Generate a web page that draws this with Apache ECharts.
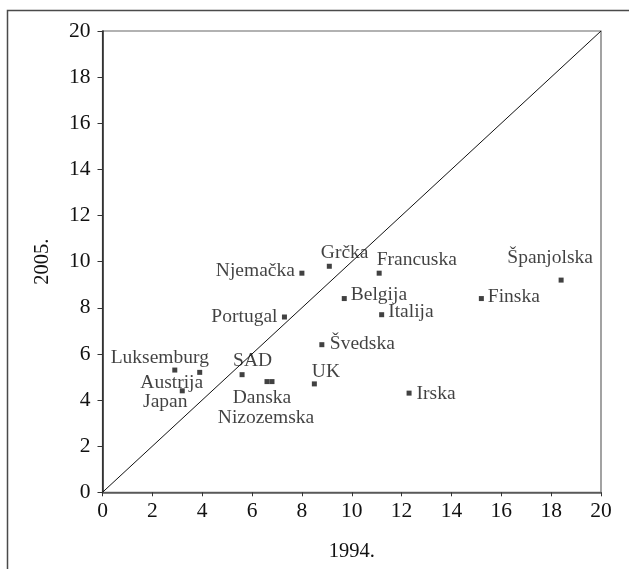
<!DOCTYPE html>
<html>
<head>
<meta charset="utf-8">
<script src="https://cdn.jsdelivr.net/npm/echarts@6/dist/echarts.min.js"></script>
<style>html,body{margin:0;padding:0;background:#fff}#c{width:629px;height:569px}</style>
</head>
<body>
<div id="c"></div>
<script>
// ---- data ----
var countries = ['Njemačka','Grčka','Francuska','Španjolska','Belgija','Finska','Italija','Portugal','Švedska','UK','Irska','Luksemburg','Austrija','Japan','SAD','Danska','Nizozemska'];
var y1994 = [8.0, 9.1, 11.1, 18.4, 9.7, 15.2, 11.2, 7.3, 8.8, 8.5, 12.3, 2.9, 3.9, 3.2, 5.6, 6.6, 6.8];
var y2005 = [9.5, 9.8, 9.5, 9.2, 8.4, 8.4, 7.7, 7.6, 6.4, 4.7, 4.3, 5.3, 5.2, 4.4, 5.1, 4.8, 4.8];
var xTicks = [0,2,4,6,8,10,12,14,16,18,20];
var yTicks = [0,2,4,6,8,10,12,14,16,18,20];
var diagonal = [[0,0],[20,20]];
var xName = '1994.';
var yName = '2005.';

// ---- label placement (style) ----
var labelPlace = {
  'Njemačka':   {align:'right',  off:[-7,-2]},
  'Grčka':      {align:'left',   off:[-8.5,-13]},
  'Francuska':  {align:'left',   off:[-2.5,-13]},
  'Španjolska': {align:'center', off:[-11,-22]},
  'Belgija':    {align:'left',   off:[6.5,-4]},
  'Finska':     {align:'left',   off:[6.5,-1.5]},
  'Italija':    {align:'left',   off:[6.5,-2.5]},
  'Portugal':   {align:'right',  off:[-7,0]},
  'Švedska':    {align:'left',   off:[8,-0.5]},
  'UK':         {align:'left',   off:[-2.5,-12.5]},
  'Irska':      {align:'left',   off:[7.5,0.5]},
  'Luksemburg': {align:'center', off:[-15,-12.5]},
  'Austrija':   {align:'center', off:[-28,10.5]},
  'Japan':      {align:'center', off:[-17,11.5]},
  'SAD':        {align:'center', off:[10.5,-13.5]},
  'Danska':     {align:'center', off:[-5,16.5]},
  'Nizozemska': {align:'center', off:[-6,36.5]}
};

var FONT = '"Liberation Serif", "Times New Roman", serif';
var pts = countries.map(function(n,i){
  var p = labelPlace[n];
  return {
    name: n,
    value: [y1994[i], y2005[i]],
    label: {show:true, position:'inside', align:p.align, verticalAlign:'middle', offset:p.off,
            formatter: n, fontFamily: FONT, fontSize: 19.5, color:'#111'}
  };
});

var chart = echarts.init(document.getElementById('c'), null, {renderer:'canvas'});
chart.setOption({
  animation:false,
  backgroundColor:'#fff',
  graphic:[{type:'rect', shape:{x:7.5,y:10.5,width:800,height:800},
            style:{fill:null, stroke:'#4a4a4a', lineWidth:1.5}, z:-1}],
  grid:{left:102.5, right:28, top:31, bottom:76.7, show:true, borderColor:'#666', borderWidth:1.2},
  xAxis:{type:'value', min:0, max:20, interval:2,
    name:xName, nameLocation:'middle', nameGap:49,
    nameTextStyle:{fontFamily:FONT, fontSize:20.5, color:'#111'},
    axisLine:{show:true, onZero:false, lineStyle:{color:'#555', width:1.5}},
    axisTick:{show:true, length:4, lineStyle:{color:'#333'}},
    axisLabel:{margin:8, fontFamily:FONT, fontSize:21.5, color:'#111',
      formatter:function(v){return xTicks.indexOf(v)>=0 ? String(v) : '';}},
    splitLine:{show:false}},
  yAxis:{type:'value', min:0, max:20, interval:2,
    name:yName, nameLocation:'middle', nameGap:49, nameRotate:90,
    nameTextStyle:{fontFamily:FONT, fontSize:20.5, color:'#111'},
    axisLine:{show:true, onZero:false, lineStyle:{color:'#222', width:1.5}},
    axisTick:{show:true, length:5, lineStyle:{color:'#333'}},
    axisLabel:{margin:12, fontFamily:FONT, fontSize:21.5, color:'#111',
      formatter:function(v){return yTicks.indexOf(v)>=0 ? String(v) : '';}},
    splitLine:{show:false}},
  series:[
    {type:'line', data:diagonal, showSymbol:false, symbol:'none', silent:true,
     lineStyle:{color:'#111', width:1}, z:1},
    {type:'scatter', data:pts, symbol:'rect', symbolSize:5,
     itemStyle:{color:'#111'}, z:3}
  ]
});
</script>
</body>
</html>
